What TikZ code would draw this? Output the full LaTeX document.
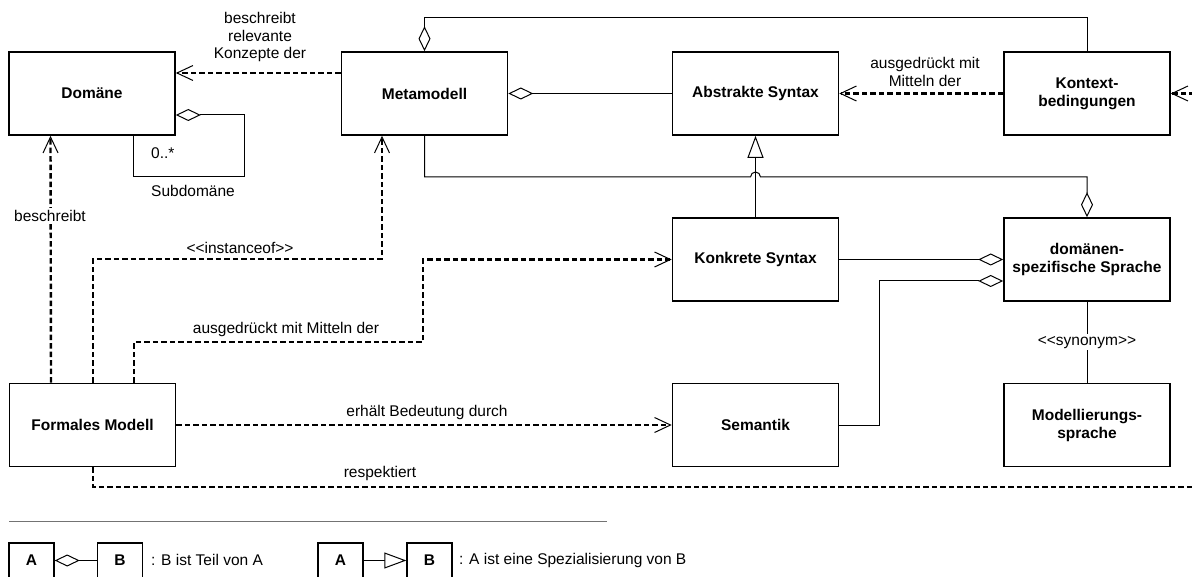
\documentclass[tikz,border=0pt]{standalone}
\usepackage{fontspec}
\setmainfont{Liberation Sans}
\usetikzlibrary{arrows.meta}

\tikzset{
  box/.style={draw, line width=1.6pt, minimum width=166pt, minimum height=83pt,
    inner sep=0pt, align=center, font=\fontsize{15.5}{18}\selectfont\bfseries},
  lbl/.style={font=\fontsize{15.5}{17.5}\selectfont, inner sep=1pt, align=center},
  legbox/.style={draw, line width=1.4pt, minimum width=45pt, minimum height=35pt,
    inner sep=0pt, font=\fontsize{15.5}{18}\selectfont\bfseries},
  dep/.style={line width=2.4pt, dash pattern=on 5.5pt off 3pt,
    -{Straight Barb[length=16pt,width=15pt,line width=1pt]}},
  agg/.style={line width=1pt, -{Diamond[length=25pt,width=12pt,fill=white,line width=1pt]}},
  gen/.style={line width=1pt, -{Triangle[length=22pt,width=16pt,fill=white,line width=1pt]}},
}

\begin{document}
\begin{tikzpicture}[x=1pt,y=1pt]
\useasboundingbox (0,0) rectangle (1192,-577);
\fill[white] (0,0) rectangle (1192,-577);
\clip (0,0) rectangle (1192,-577);

% classes
\node[box] (dom)  at (92,-93.5)    {Domäne};
\node[box] (meta) at (424.5,-93.5) {Metamodell};
\node[box] (abs)  at (755.5,-93.5) {Abstrakte Syntax};
\node[box] (kon)  at (1087,-93.5)  {Kontext-\\bedingungen};
\node[box] (konk) at (755.5,-259.5){Konkrete Syntax};
\node[box] (dss)  at (1087,-259.5) {domänen-\\spezifische Sprache};
\node[box] (form) at (92.5,-425)   {Formales Modell};
\node[box] (sem)  at (755.5,-425)  {Semantik};
\node[box] (mod)  at (1087,-425)   {Modellierungs-\\sprache};

% aggregations and generalisation
\draw[agg] (kon.north) -- ++(0,34) -| (meta.north);
\draw[agg] (abs.west) -- (meta.east);
\draw[agg] (meta.south) |- (750.5,-177) arc[start angle=180,end angle=0,radius=5] -| (dss.north);
\draw[gen] (konk.north) -- (abs.south);
\draw[agg] (konk.east) -- (dss.west);
\coordinate (sb) at (879,-425);
\draw[agg] (sem.east) -- (sb) |- ([yshift=-21.5]dss.west);
\coordinate (sd) at (244,-177);
\draw[agg] ([xshift=41.5]dom.south) |- (sd) |- ([yshift=-21.5]dom.east);
\node[lbl, anchor=west] (mult) at (150,-153) {0..*};
\node[lbl] (subd) at (193,-191) {Subdomäne};
\draw[line width=1pt] (dss.south) -- (mod.north)
  node[lbl, midway, fill=white, inner sep=2pt] (syn) {<\kern0pt<synonym>\kern0pt>};

% dependencies
\draw[dep] ([yshift=20.5]meta.west) -- ([yshift=20.5]dom.east);
\node[lbl] (l1) at (260,-37) {beschreibt\\relevante\\Konzepte der};
\draw[dep] (kon.west) -- (abs.east);
\node[lbl] (l2) at (925,-72) {ausgedrückt mit\\Mitteln der};
\draw[dep] ([xshift=-41.5]form.north) -- ([xshift=-41.5]dom.south);
\node[lbl, fill=white, inner sep=2pt] (l3) at (50,-216) {beschreibt};
\coordinate (ia) at (382,-259);
\draw[dep] ([xshift=0.5]form.north) |- (ia) -- (ia |- meta.south);
\node[lbl] (l4) at (240,-248) {<\kern0pt<instanceof>\kern0pt>};
\coordinate (ma) at (423,-342);
\draw[dep] ([xshift=41.5]form.north) |- (ma) |- (konk.west);
\node[lbl] (l5) at (286,-329) {ausgedrückt mit Mitteln der};
\draw[dep] (form.east) -- (sem.west);
\node[lbl] (l6) at (427,-412) {erhält Bedeutung durch};
\coordinate (ra) at (1215,-487);
\draw[dep] ([xshift=0.5]form.south) |- (ra) |- (kon.east);
\node[lbl] (l7) at (380,-473) {respektiert};

% legend
\draw[line width=1.3pt, black!55] (9,-521.5) -- (607,-521.5);
\node[legbox] (la) at (31.5,-560.5) {A};
\node[legbox] (lb) at (120,-560.5) {B};
\draw[agg] (lb.west) -- (la.east);
\node[lbl, anchor=west] (lt1) at (150,-560) {: B ist Teil von A};
\node[legbox] (lc) at (340.5,-560.5) {A};
\node[legbox] (ld) at (429.5,-560.5) {B};
\draw[gen] (lc.east) -- (ld.west);
\node[lbl, anchor=west] (lt2) at (458,-560) {: A ist eine Spezialisierung von B};
\end{tikzpicture}
\end{document}
